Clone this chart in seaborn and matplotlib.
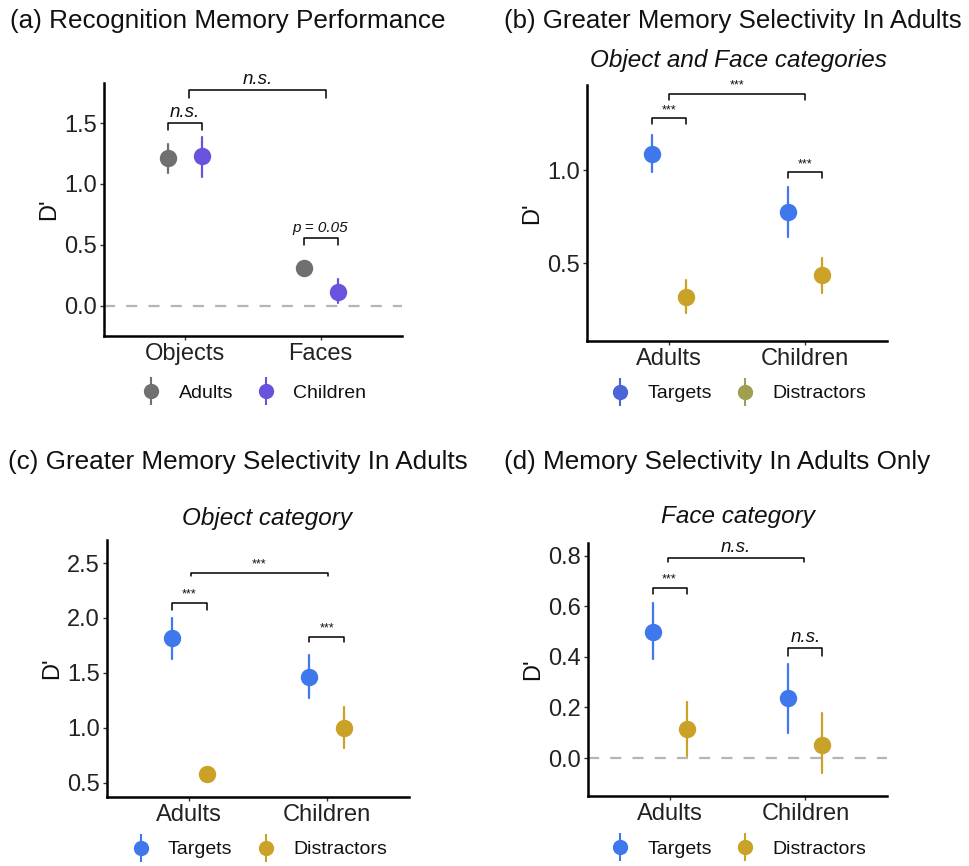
import matplotlib
matplotlib.use("Agg")
import matplotlib.pyplot as plt
from matplotlib.lines import Line2D
from matplotlib.legend_handler import HandlerTuple
import numpy as np
import pandas as pd
import seaborn as sns

# ---- data (mean, lower, upper) ----
groups = ["Adults", "Children"]
items = ["Targets", "Distractors"]
kinds = ["Objects", "Faces"]

# (a) recognition memory: hue = group, x = stimulus kind
a_mean = {"Adults": [1.21, 0.31], "Children": [1.23, 0.115]}
a_lo = {"Adults": [1.09, 0.27], "Children": [1.06, 0.02]}
a_hi = {"Adults": [1.33, 0.35], "Children": [1.39, 0.22]}

# (b) object and face categories: hue = item type, x = group
b_mean = {"Targets": [1.09, 0.775], "Distractors": [0.32, 0.435]}
b_lo = {"Targets": [0.99, 0.64], "Distractors": [0.23, 0.34]}
b_hi = {"Targets": [1.19, 0.91], "Distractors": [0.41, 0.53]}

# (c) object category
c_mean = {"Targets": [1.82, 1.46], "Distractors": [0.58, 1.00]}
c_lo = {"Targets": [1.63, 1.27], "Distractors": [0.52, 0.82]}
c_hi = {"Targets": [2.00, 1.66], "Distractors": [0.64, 1.19]}

# (d) face category
d_mean = {"Targets": [0.50, 0.237], "Distractors": [0.114, 0.05]}
d_lo = {"Targets": [0.39, 0.10], "Distractors": [0.01, -0.06]}
d_hi = {"Targets": [0.615, 0.37], "Distractors": [0.22, 0.18]}

# significance brackets: (x1, x2, top, tick end, label)
a_sig = [(-0.125, 0.125, 1.50, 1.44, "n.s."), (0.875, 1.125, 0.56, 0.50, "p = 0.05"),
         (0.03, 1.04, 1.77, 1.71, "n.s.")]
b_sig = [(-0.125, 0.125, 1.28, 1.25, "***"), (0.875, 1.125, 0.99, 0.96, "***"),
         (0.0, 1.0, 1.414, 1.38, "***")]
c_sig = [(-0.125, 0.125, 2.14, 2.07, "***"), (0.875, 1.125, 1.83, 1.78, "***"),
         (0.01, 1.01, 2.41, 2.38, "***")]
d_sig = [(-0.125, 0.125, 0.674, 0.65, "***"), (0.875, 1.125, 0.434, 0.405, "n.s."),
         (-0.01, 0.99, 0.79, 0.775, "n.s.")]

group_pal = {"Adults": "#707070", "Children": "#6a52dc"}
item_pal = {"Targets": "#3f78ec", "Distractors": "#c9a227"}

sns.set_style("ticks")
plt.rcParams["font.family"] = ["Liberation Sans", "DejaVu Sans"]
plt.rcParams["text.color"] = "#111111"


def long_table(xcats, huecats, mean, lo, hi):
    # three rows per cell so median = mean and the 0-100 interval = the bar
    rows = []
    for h in huecats:
        for i, x in enumerate(xcats):
            for v in (lo[h][i], mean[h][i], hi[h][i]):
                rows.append({"x": x, "hue": h, "d": v})
    return pd.DataFrame(rows)


def panel(ax, df, xorder, horder, pal, ylim, yticks, sig, zero_line, legend_pal, leg_y):
    if zero_line:
        ax.axhline(0, color="#b5b5b5", lw=1.6, ls=(0, (5, 5)), zorder=0)
    sns.pointplot(data=df, x="x", y="d", hue="hue", order=xorder, hue_order=horder,
                  palette=pal, estimator="median", errorbar=("pi", 100),
                  dodge=0.25, linestyle="none", markers="o", markersize=10.5,
                  err_kws={"linewidth": 1.6}, ax=ax, legend=False)
    ax.set_xlim(-0.6, 1.6)
    ax.set_ylim(*ylim)
    ax.set_yticks(yticks)
    ax.set_yticklabels([f"{t:.1f}" for t in yticks])
    ax.set_xlabel("")
    ax.set_ylabel("D'", fontsize=17, labelpad=3, color="#111111")
    ax.tick_params(axis="both", labelsize=17, length=3, width=1, color="#333333",
                   labelcolor="#222222", pad=2)
    for s in ["top", "right"]:
        ax.spines[s].set_visible(False)
    for s in ["left", "bottom"]:
        ax.spines[s].set_linewidth(1.8)
        ax.spines[s].set_color("black")
    for x1, x2, top, end, lab in sig:
        ax.plot([x1, x1, x2, x2], [end, top, top, end], color="black", lw=1.1,
                clip_on=False)
        style = "normal" if lab == "***" else "italic"
        size = 9 if lab == "***" else (11 if lab.startswith("p") else 13.5)
        ax.annotate(lab, xy=((x1 + x2) / 2, top), xytext=(0, 1.5),
                    textcoords="offset points", ha="center", va="bottom",
                    fontsize=size, style=style, annotation_clip=False)
    handles = []
    for h in horder:
        c = legend_pal[h]
        handles.append((Line2D([], [], color=c, marker="|", ls="none", markersize=20, mew=1.5),
                        Line2D([], [], color=c, marker="o", ls="none", markersize=10)))
    ax.legend(handles, horder, handler_map={tuple: HandlerTuple(ndivide=1)},
              loc="center", bbox_to_anchor=(0.5, leg_y), ncol=2, frameon=False,
              fontsize=14, handlelength=1.2, handletextpad=0.8, columnspacing=1.1)


fig = plt.figure(figsize=(9.69, 8.66), dpi=100)
axa = fig.add_axes([0.1073, 0.612, 0.3075, 0.2921])
axb = fig.add_axes([0.6058, 0.6062, 0.3096, 0.2956])
axc = fig.add_axes([0.1104, 0.0797, 0.3117, 0.2968])
axd = fig.add_axes([0.6068, 0.0808, 0.3086, 0.2921])

panel(axa, long_table(kinds, groups, a_mean, a_lo, a_hi), kinds, groups, group_pal,
      (-0.25, 1.83), [0.0, 0.5, 1.0, 1.5], a_sig, True, group_pal, -0.225)
panel(axb, long_table(groups, items, b_mean, b_lo, b_hi), groups, items, item_pal,
      (0.08, 1.46), [0.5, 1.0], b_sig, False,
      {"Targets": "#4a66d6", "Distractors": "#9ea050"}, -0.205)
panel(axc, long_table(groups, items, c_mean, c_lo, c_hi), groups, items, item_pal,
      (0.37, 2.71), [0.5, 1.0, 1.5, 2.0, 2.5], c_sig, False, item_pal, -0.205)
panel(axd, long_table(groups, items, d_mean, d_lo, d_hi), groups, items, item_pal,
      (-0.15, 0.85), [0.0, 0.2, 0.4, 0.6, 0.8], d_sig, True, item_pal, -0.21)

fig.text(10 / 969, 1 - 21 / 866, "(a) Recognition Memory Performance", fontsize=18.8,
         ha="left", va="center")
fig.text(504 / 969, 1 - 21 / 866, "(b) Greater Memory Selectivity In Adults", fontsize=18.6,
         ha="left", va="center")
fig.text(8 / 969, 1 - 462 / 866, "(c) Greater Memory Selectivity In Adults", fontsize=18.8,
         ha="left", va="center")
fig.text(504 / 969, 1 - 462 / 866, "(d) Memory Selectivity In Adults Only", fontsize=18.8,
         ha="left", va="center")
fig.text(738 / 969, 1 - 60 / 866, "Object and Face categories", fontsize=17.5,
         style="italic", ha="center", va="center")
fig.text(267 / 969, 1 - 518 / 866, "Object category", fontsize=17.5,
         style="italic", ha="center", va="center")
fig.text(738 / 969, 1 - 517 / 866, "Face category", fontsize=17.5,
         style="italic", ha="center", va="center")

fig.savefig("out.png", dpi=100)
